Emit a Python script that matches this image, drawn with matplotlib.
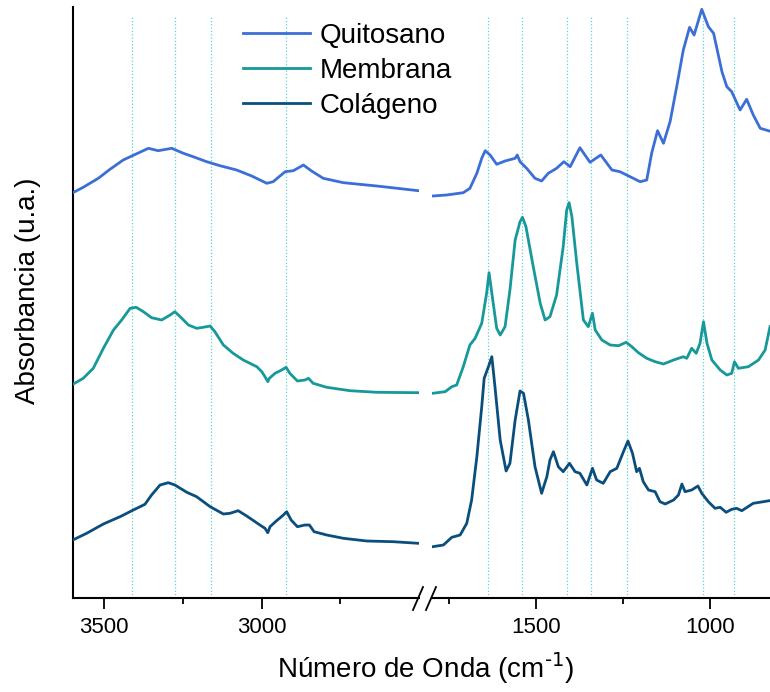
import matplotlib
matplotlib.use("Agg")
import matplotlib.pyplot as plt
from matplotlib.lines import Line2D
from matplotlib.ticker import FixedLocator

plt.rcParams["font.family"] = ["Liberation Sans", "DejaVu Sans"]
plt.rcParams["mathtext.default"] = "regular"

# --- spectra (offset for display), high-wavenumber region 3600-2500 cm-1 ---
wn_q_hi = [3599, 3566, 3518, 3481, 3439, 3407, 3359, 3328, 3285, 3248, 3217, 3174, 3132,
           3079, 3031, 2983, 2963, 2925, 2899, 2867, 2841, 2804, 2740, 2634, 2502]
ab_q_hi = [4.053, 4.107, 4.197, 4.287, 4.38, 4.427, 4.497, 4.473, 4.497, 4.447, 4.413, 4.363,
           4.323, 4.28, 4.22, 4.147, 4.163, 4.263, 4.273, 4.33, 4.27, 4.197, 4.153, 4.12, 4.073]

wn_m_hi = [3599, 3566, 3534, 3502, 3470, 3444, 3417, 3398, 3375, 3349, 3317, 3290, 3275,
           3253, 3232, 3206, 3185, 3163, 3148, 3121, 3090, 3058, 3015, 2999, 2989, 2980,
           2975, 2957, 2936, 2922, 2910, 2886, 2862, 2851, 2836, 2793, 2719, 2634, 2502]
ab_m_hi = [2.137, 2.197, 2.297, 2.497, 2.68, 2.78, 2.897, 2.907, 2.863, 2.803, 2.78, 2.83,
           2.863, 2.797, 2.73, 2.697, 2.707, 2.72, 2.663, 2.53, 2.447, 2.38, 2.313, 2.263,
           2.213, 2.163, 2.197, 2.247, 2.28, 2.307, 2.247, 2.17, 2.18, 2.197, 2.147, 2.107,
           2.073, 2.057, 2.053]

wn_c_hi = [3599, 3555, 3502, 3449, 3407, 3370, 3349, 3322, 3296, 3275, 3237, 3206, 3163,
           3121, 3100, 3074, 3047, 3005, 2989, 2980, 2973, 2952, 2933, 2920, 2906, 2886,
           2862, 2848, 2833, 2793, 2740, 2666, 2582, 2502]
ab_c_hi = [0.58, 0.647, 0.74, 0.813, 0.88, 0.937, 1.03, 1.13, 1.153, 1.13, 1.057, 1.013,
           0.913, 0.84, 0.847, 0.873, 0.82, 0.73, 0.697, 0.653, 0.713, 0.773, 0.823, 0.863,
           0.78, 0.713, 0.73, 0.73, 0.663, 0.63, 0.597, 0.57, 0.563, 0.547]

# --- fingerprint region 1800-830 cm-1 ---
wn_q_lo = [1797, 1757, 1709, 1690, 1670, 1656, 1646, 1632, 1613, 1589, 1560, 1554, 1546,
           1527, 1503, 1484, 1465, 1441, 1420, 1402, 1374, 1345, 1314, 1282, 1259, 1230,
           1201, 1182, 1168, 1151, 1134, 1115, 1096, 1077, 1059, 1046, 1024, 1005, 990,
           966, 952, 938, 914, 895, 876, 856, 830]
ab_q_lo = [4.02, 4.03, 4.053, 4.097, 4.247, 4.397, 4.473, 4.43, 4.337, 4.37, 4.397, 4.43,
           4.363, 4.297, 4.197, 4.17, 4.247, 4.297, 4.363, 4.313, 4.503, 4.357, 4.43, 4.28,
           4.263, 4.213, 4.163, 4.18, 4.447, 4.673, 4.547, 4.763, 5.113, 5.48, 5.707, 5.63,
           5.887, 5.713, 5.647, 5.263, 5.113, 5.063, 4.88, 4.987, 4.83, 4.697, 4.67]

wn_m_lo = [1797, 1761, 1742, 1728, 1709, 1690, 1675, 1656, 1642, 1635, 1627, 1613, 1603,
           1589, 1575, 1560, 1546, 1539, 1529, 1508, 1488, 1474, 1460, 1441, 1422, 1412,
           1405, 1397, 1383, 1364, 1350, 1338, 1330, 1311, 1287, 1263, 1241, 1225, 1206,
           1182, 1158, 1134, 1105, 1077, 1067, 1053, 1040, 1029, 1019, 1009, 995, 971, 952,
           938, 930, 919, 890, 861, 842, 828]
ab_m_lo = [2.047, 2.063, 2.113, 2.13, 2.313, 2.53, 2.597, 2.747, 3.047, 3.253, 3.047, 2.697,
           2.63, 2.713, 3.08, 3.58, 3.763, 3.807, 3.713, 3.313, 2.947, 2.78, 2.813, 3.03,
           3.513, 3.88, 3.953, 3.813, 3.347, 2.78, 2.713, 2.847, 2.68, 2.58, 2.53, 2.523,
           2.557, 2.513, 2.453, 2.397, 2.363, 2.34, 2.38, 2.413, 2.397, 2.497, 2.447, 2.547,
           2.763, 2.547, 2.38, 2.28, 2.23, 2.247, 2.363, 2.297, 2.313, 2.38, 2.48, 2.713]

wn_c_lo = [1797, 1766, 1742, 1718, 1699, 1685, 1670, 1656, 1649, 1642, 1635, 1627, 1618,
           1603, 1586, 1575, 1560, 1546, 1536, 1522, 1503, 1484, 1469, 1460, 1450, 1436,
           1422, 1404, 1388, 1374, 1354, 1338, 1326, 1307, 1287, 1268, 1249, 1236, 1223,
           1211, 1203, 1192, 1177, 1158, 1144, 1129, 1105, 1091, 1081, 1072, 1053, 1035,
           1024, 1005, 986, 971, 954, 938, 924, 909, 876, 847, 830]
ab_c_lo = [0.513, 0.53, 0.607, 0.63, 0.747, 0.98, 1.413, 1.913, 2.197, 2.263, 2.33, 2.413,
           2.113, 1.58, 1.27, 1.347, 1.78, 2.07, 2.047, 1.78, 1.313, 1.047, 1.213, 1.38,
           1.463, 1.313, 1.263, 1.347, 1.263, 1.247, 1.13, 1.297, 1.18, 1.147, 1.263, 1.297,
           1.463, 1.57, 1.447, 1.263, 1.297, 1.163, 1.08, 1.063, 0.963, 0.94, 0.98, 1.03,
           1.14, 1.063, 1.08, 1.12, 1.047, 0.963, 0.897, 0.907, 0.857, 0.887, 0.897, 0.873,
           0.947, 0.963, 0.973]

# band positions marked with dotted guides
bands_hi = [3410, 3275, 3160, 2922]
bands_lo = [1638, 1541, 1411, 1343, 1239, 1020, 931]

labels = ["Quitosano", "Membrana", "Colágeno"]
colors = ["#3b6fd6", "#17989a", "#0a4e7d"]

W, H = 770, 692
fig = plt.figure(figsize=(W / 100, H / 100), dpi=100)
bot = (H - 598) / H
hgt = (598 - 7) / H
ax1 = fig.add_axes([72.5 / W, bot, (419 - 72.5) / W, hgt])
ax2 = fig.add_axes([431.6 / W, bot, (W - 431.6) / W, hgt])

for ax, bands in ((ax1, bands_hi), (ax2, bands_lo)):
    for b in bands:
        ax.axvline(b, ymin=0, ymax=0.985, color="#5fd3d3", lw=0.9, ls=":", zorder=1)

hi = [(wn_q_hi, ab_q_hi), (wn_m_hi, ab_m_hi), (wn_c_hi, ab_c_hi)]
lo = [(wn_q_lo, ab_q_lo), (wn_m_lo, ab_m_lo), (wn_c_lo, ab_c_lo)]
for (x, y), c, lab in zip(hi, colors, labels):
    ax1.plot(x, y, color=c, lw=2.0, label=lab, zorder=3, solid_joinstyle="round")
for (x, y), c in zip(lo, colors):
    ax2.plot(x, y, color=c, lw=2.0, zorder=3, solid_joinstyle="round")

ax1.set_xlim(3600, 2500)
ax2.set_xlim(1800, 828)
for ax in (ax1, ax2):
    ax.set_ylim(0, 5.91)
    ax.set_yticks([])
    ax.spines["top"].set_visible(False)
    ax.spines["right"].set_visible(False)
    ax.spines["bottom"].set_linewidth(1.5)
    ax.tick_params(axis="x", which="major", direction="out", length=8, width=1.3,
                   labelsize=16, pad=6)
    ax.tick_params(axis="x", which="minor", direction="out", length=4, width=1.3)
    ax.patch.set_visible(False)
ax1.spines["left"].set_linewidth(1.5)
ax2.spines["left"].set_visible(False)

ax1.xaxis.set_major_locator(FixedLocator([3500, 3000]))
ax1.xaxis.set_minor_locator(FixedLocator([3250, 2750]))
ax2.xaxis.set_major_locator(FixedLocator([1500, 1000]))
ax2.xaxis.set_minor_locator(FixedLocator([1750, 1250]))

# axis break marks
for x0 in (413, 426):
    fig.add_artist(Line2D([x0 / W, (x0 + 10) / W], [1 - 610 / H, 1 - 587 / H],
                          color="black", lw=1.3))

fig.text(425.5 / W, 1 - 668 / H, r"Número de Onda (cm$^{\text{-1}}$)", fontsize=20,
         ha="center", va="center")
fig.text(28 / W, 1 - 291 / H, "Absorbancia (u.a.)", fontsize=20, rotation=90,
         ha="center", va="center")

fig.legend(loc="upper left", bbox_to_anchor=(243 / W, 1 - 23 / H), frameon=False,
           fontsize=20, handlelength=2.4, handletextpad=0.35, labelspacing=0.32,
           borderpad=0, borderaxespad=0)

fig.savefig("out.png", dpi=100)
